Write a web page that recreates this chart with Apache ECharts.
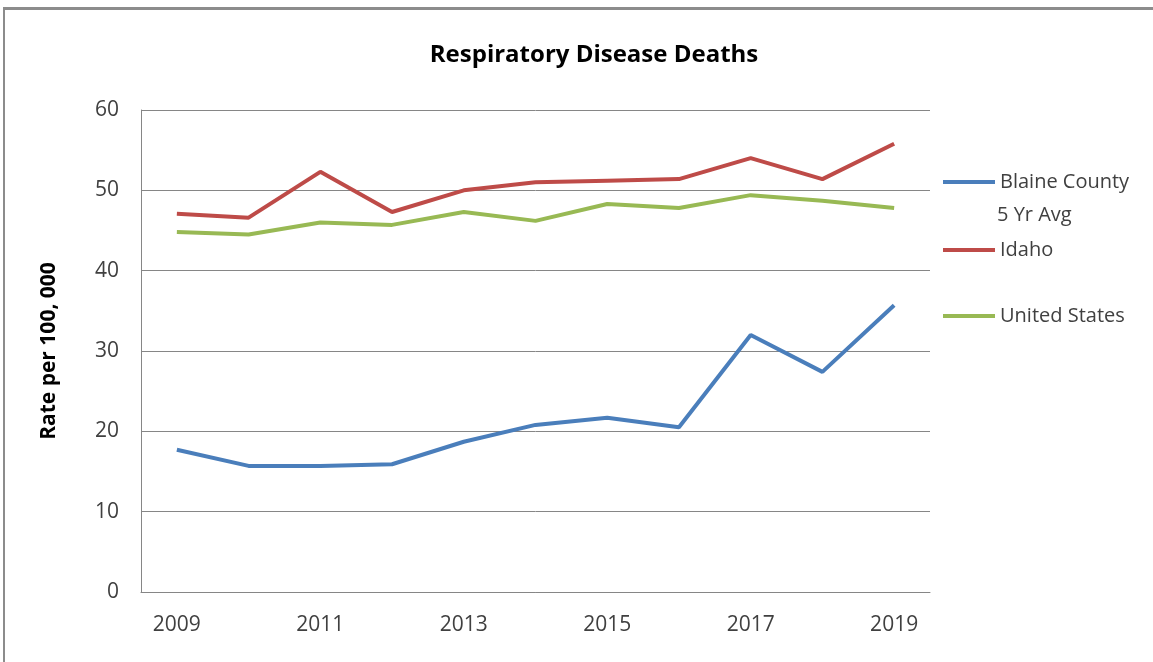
<!DOCTYPE html>
<html>
<head>
<meta charset="utf-8">
<script src="https://cdn.jsdelivr.net/npm/echarts@6/dist/echarts.min.js"></script>
<style>
  html, body { margin: 0; padding: 0; background: #ffffff; overflow: hidden; }
  #frame { position: absolute; left: 3px; top: 7px; width: 1200px; height: 700px;
           border-top: 3px solid #8c8c8c; border-left: 2px solid #8c8c8c; box-sizing: border-box; }
  #chart { position: absolute; left: 0; top: 0; width: 1153px; height: 662px; }
</style>
</head>
<body>
<div id="frame"></div>
<div id="chart"></div>
<script>
const years = ['2009','2010','2011','2012','2013','2014','2015','2016','2017','2018','2019'];
const blaine = [17.7, 15.7, 15.7, 15.9, 18.7, 20.8, 21.7, 20.5, 32.0, 27.4, 35.7];
const idaho = [47.1, 46.6, 52.3, 47.3, 50.0, 51.0, 51.2, 51.4, 54.0, 51.4, 55.8];
const unitedStates = [44.8, 44.5, 46.0, 45.7, 47.3, 46.2, 48.3, 47.8, 49.4, 48.7, 47.8];
const seriesNames = ['Blaine County\n5 Yr Avg', 'Idaho', 'United States'];
const colors = ['#4A7EBB', '#BE4B48', '#98B954'];

const FONT = '"Open Sans", sans-serif';
const chart = echarts.init(document.getElementById('chart'));

function mkSeries(name, data, color) {
  return {
    name: name, type: 'line', data: data, symbol: 'none',
    lineStyle: { width: 4, color: color }, itemStyle: { color: color },
    emphasis: { disabled: true }
  };
}

const legendBase = {
  orient: 'vertical', left: 943, padding: 0, itemWidth: 52, itemHeight: 4,
  icon: 'rect', selectedMode: false,
  formatter: function (n) { return n.split('\n')[0]; },
  textStyle: { fontFamily: FONT, fontSize: 20, color: '#404040', lineHeight: 20 }
};

chart.setOption({
  animation: false,
  title: {
    text: 'Respiratory Disease Deaths', left: 594, top: 42, textAlign: 'center', padding: 0,
    textStyle: { fontFamily: FONT, fontSize: 24, fontWeight: 'bold', color: '#000', lineHeight: 26 }
  },
  legend: [
    Object.assign({}, legendBase, { data: [seriesNames[0]], top: 172 }),
    Object.assign({}, legendBase, { data: [seriesNames[1]], top: 240 }),
    Object.assign({}, legendBase, { data: [seriesNames[2]], top: 306 })
  ],
  graphic: [{
    type: 'text', left: 997, top: 205,
    style: { text: seriesNames[0].split('\n')[1], fontFamily: FONT, fontSize: 20, fill: '#404040' }
  }],
  grid: { left: 141, right: 223, top: 110, bottom: 70 },
  xAxis: {
    type: 'category', data: years, boundaryGap: true,
    axisLine: { lineStyle: { color: '#868686', width: 1 } },
    axisTick: { show: false },
    axisLabel: { interval: 1, margin: 23, fontFamily: FONT, fontSize: 21, color: '#404040' }
  },
  yAxis: {
    type: 'value', min: 0, max: 60, interval: 10,
    name: 'Rate per 100, 000', nameLocation: 'middle', nameGap: 81,
    nameTextStyle: { fontFamily: FONT, fontSize: 21, fontWeight: 'bold', color: '#000' },
    axisLine: { show: true, lineStyle: { color: '#868686', width: 1 } },
    axisTick: { show: false },
    splitLine: { lineStyle: { color: '#868686', width: 1 } },
    axisLabel: { margin: 22, fontFamily: FONT, fontSize: 21, color: '#404040' }
  },
  series: [
    mkSeries(seriesNames[0], blaine, colors[0]),
    mkSeries(seriesNames[1], idaho, colors[1]),
    mkSeries(seriesNames[2], unitedStates, colors[2])
  ]
});
</script>
</body>
</html>
